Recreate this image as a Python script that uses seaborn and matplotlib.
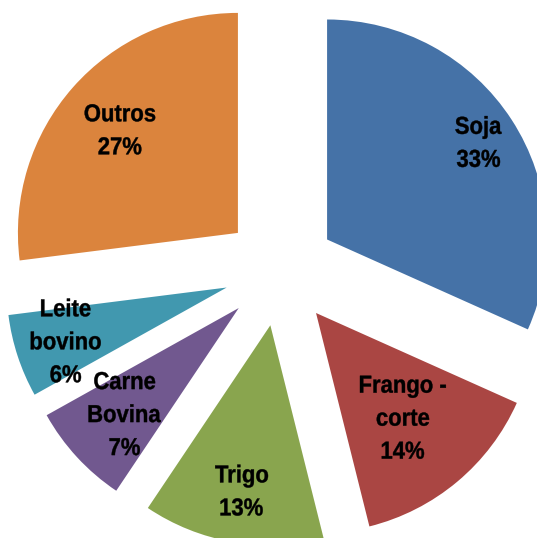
import numpy as np
import seaborn as sns
import matplotlib.pyplot as plt
from matplotlib.textpath import TextPath
from matplotlib.patches import PathPatch
from matplotlib.font_manager import FontProperties
from matplotlib.transforms import Affine2D

sns.set_theme(style='white')
plt.rcParams['font.family'] = ['Liberation Sans', 'DejaVu Sans']

labels = ['Soja', 'Frango -\ncorte', 'Trigo', 'Carne\nBovina', 'Leite\nbovino', 'Outros']
values = [31.7, 14.4, 13.3, 7.5, 6.1, 27.0]
pct_labels = ['33%', '14%', '13%', '7%', '6%', '27%']
colors = ['#4572A7', '#AA4643', '#89A54E', '#71588F', '#4198AF', '#DB843D']
# radial position of each label inside its wedge (fraction of radius)
label_pos = [0.82, 0.615, 0.76, 0.705, 0.77, 0.715]

R_PX = 220          # pie radius in pixels
FONT_PX = 24.5      # glyph size in pixels
PITCH_PX = 33       # line spacing in pixels
SQUEEZE = 0.9       # narrow bold look of the original labels
font = FontProperties(family='Liberation Sans', weight='bold')


def narrow_label(ax, x, y, text):
    lines = text.split('\n')
    cap = 0.729 * FONT_PX
    top = y * R_PX + ((len(lines) - 1) * PITCH_PX + cap) / 2
    for i, line in enumerate(lines):
        tp = TextPath((0, 0), line, size=FONT_PX, prop=font)
        ext = tp.get_extents()
        base = top - cap - i * PITCH_PX
        tr = (Affine2D().translate(-(ext.x0 + ext.x1) / 2, 0)
              .scale(SQUEEZE, 1).translate(x * R_PX, base).scale(1 / R_PX))
        ax.add_patch(PathPatch(tr.transform_path(tp), facecolor='black',
                               edgecolor='black', linewidth=0.3))


fig = plt.figure(figsize=(5.37, 5.38), dpi=100)
ax = fig.add_axes([0, 0, 1, 1])

wedges, _ = ax.pie(values, colors=colors, startangle=90, counterclock=False,
                   explode=[0.255] * len(values), radius=1.0,
                   wedgeprops=dict(linewidth=0))

for w, lab, pct, f in zip(wedges, labels, pct_labels, label_pos):
    tm = np.deg2rad((w.theta1 + w.theta2) / 2)
    cx, cy = w.center
    narrow_label(ax, cx + f * np.cos(tm), cy + f * np.sin(tm), f'{lab}\n{pct}')

# pie centre sits at about (280, 270) px
ax.set_xlim(-280 / R_PX, (537 - 280) / R_PX)
ax.set_ylim(-(538 - 270) / R_PX, 270 / R_PX)
ax.set_aspect('equal')
ax.axis('off')

fig.savefig('out.png', dpi=100)
